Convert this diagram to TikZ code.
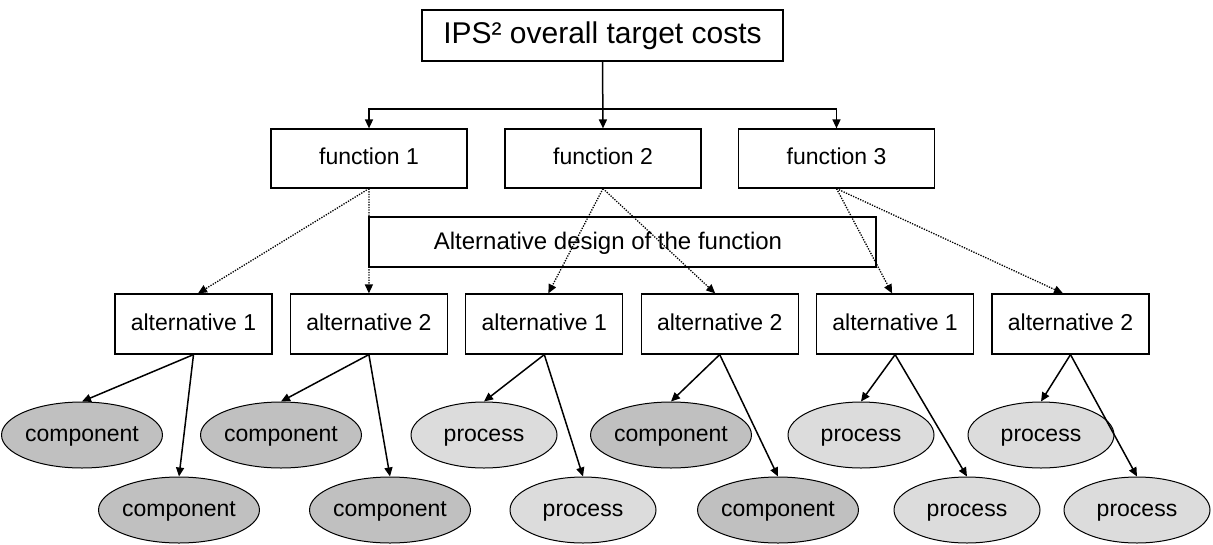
\documentclass[tikz,border=0pt]{standalone}
\usepackage{fontspec}
\setmainfont{Liberation Sans}
\usetikzlibrary{arrows.meta,shapes.geometric}
\definecolor{compfill}{HTML}{C0C0C0}
\definecolor{procfill}{HTML}{DCDCDC}
\begin{document}
\begin{tikzpicture}[x=1pt,y=-1pt,
  every node/.style={font=\fontsize{23}{27}\selectfont, inner sep=0pt, text height=16.5pt, text depth=4.5pt},
  box/.style={draw, line width=1.2pt, fill=white, minimum height=59pt, minimum width=196pt},
  altbox/.style={draw, line width=1.2pt, fill=white, minimum height=60pt, minimum width=157pt},
  comp/.style={ellipse, draw, line width=1pt, fill=compfill, minimum width=146pt, minimum height=66pt},
  proc/.style={ellipse, draw, line width=1pt, fill=procfill, minimum width=146pt, minimum height=66pt},
  arr/.style={line width=1.5pt, -{Triangle[length=9pt,width=8pt]}},
  dotarr/.style={line width=1.3pt, dash pattern=on 1.3pt off 1.3pt, -{Triangle[length=9pt,width=8pt]}}
]
\useasboundingbox (0,0) rectangle (1213,544);
% top
\node[draw, line width=1.2pt, minimum width=361pt, minimum height=51pt, font=\fontsize{30}{34}\selectfont, text height=21pt, text depth=6pt] (top) at (602.5,35.5) {IPS² overall target costs};
% functions
\node[box] (f1) at (369,158.5) {function 1};
\node[box] (f2) at (603,158.5) {function 2};
\node[box] (f3) at (836.5,158.5) {function 3};
\coordinate (bar) at (603,109);
\draw[arr] (top.south) -- (f2.north);
\draw[arr] (bar) -| (f1.north);
\draw[arr] (bar) -| (f3.north);
% alternative design box
\node[draw, line width=1.2pt, fill=white, minimum width=507pt, minimum height=50pt] (ad) at (622.5,242) {};
\node[font=\fontsize{24}{28}\selectfont] (adt) at (608,243) {Alternative design of the function};
% alternatives
\node[altbox] (a1) at (193.5,324) {alternative 1};
\node[altbox] (a2) at (368.9,324) {alternative 2};
\node[altbox] (a3) at (544.3,324) {alternative 1};
\node[altbox] (a4) at (719.7,324) {alternative 2};
\node[altbox] (a5) at (895.1,324) {alternative 1};
\node[altbox] (a6) at (1070.5,324) {alternative 2};
% dotted
\draw[dotarr] (f1.south) -- ([xshift=4.5pt]a1.north);
\draw[dotarr] (f1.south) -- (a2.north);
\draw[dotarr] (f2.south) -- ([xshift=4pt]a3.north);
\draw[dotarr] (f2.south) -- ([xshift=-4.5pt]a4.north);
\draw[dotarr] (f3.south) -- ([xshift=-3pt]a5.north);
\draw[dotarr] (f3.south) -- ([xshift=-7.5pt]a6.north);
% ellipses
\node[comp] (e1) at (82,435) {component};
\node[comp] (e2) at (179,510) {component};
\node[comp] (e3) at (281,435) {component};
\node[comp] (e4) at (390,510) {component};
\node[proc] (e5) at (484,435) {process};
\node[proc] (e6) at (583,510) {process};
\node[comp] (e7) at (671,435) {component};
\node[comp] (e8) at (778,510) {component};
\node[proc] (e9) at (861,435) {process};
\node[proc] (e10) at (967,510) {process};
\node[proc] (e11) at (1041,435) {process};
\node[proc] (e12) at (1137,510) {process};
\foreach \a/\u/\l in {a1/e1/e2, a2/e3/e4, a3/e5/e6, a4/e7/e8, a5/e9/e10, a6/e11/e12}{
  \draw[arr] (\a.south) -- (\u.north);
  \draw[arr] (\a.south) -- (\l.north);
}
\end{tikzpicture}
\end{document}
